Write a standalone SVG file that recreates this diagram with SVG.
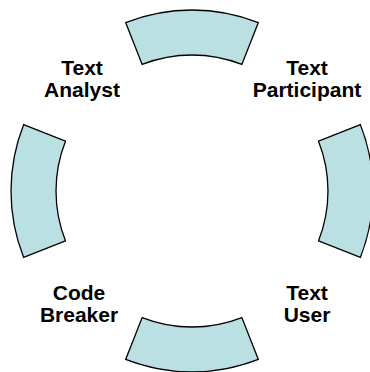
<svg xmlns="http://www.w3.org/2000/svg" width="370" height="372" viewBox="0 0 370 372">
<style>
.seg{fill:#BBE0E3;stroke:#000;stroke-width:1.3;stroke-linejoin:miter}
.lbl{font-family:"Liberation Sans",Arial,sans-serif;font-weight:bold;font-size:21px;fill:#000;text-anchor:middle}
</style>
<defs>
<path id="arcShape" d="M125.66,22.60 A181,181 0 0 1 258.34,22.60 L241.84,64.47 A136,136 0 0 0 142.16,64.47 Z"/>
</defs>
<rect width="370" height="372" fill="#fff"/>
<g id="segment-top"><use href="#arcShape" class="seg"/></g>
<g id="segment-right"><use href="#arcShape" class="seg" transform="rotate(90 192 191)"/></g>
<g id="segment-bottom"><use href="#arcShape" class="seg" transform="rotate(180 192 191)"/></g>
<g id="segment-left"><use href="#arcShape" class="seg" transform="rotate(270 192 191)"/></g>
<g id="label-analyst"><text class="lbl" x="82" y="75">Text</text><text class="lbl" x="82" y="97">Analyst</text></g>
<g id="label-participant"><text class="lbl" x="307" y="75">Text</text><text class="lbl" x="307" y="97">Participant</text></g>
<g id="label-breaker"><text class="lbl" x="79" y="300">Code</text><text class="lbl" x="79" y="322">Breaker</text></g>
<g id="label-user"><text class="lbl" x="307" y="300">Text</text><text class="lbl" x="307" y="322">User</text></g>
<g id="connectors"></g>
</svg>
